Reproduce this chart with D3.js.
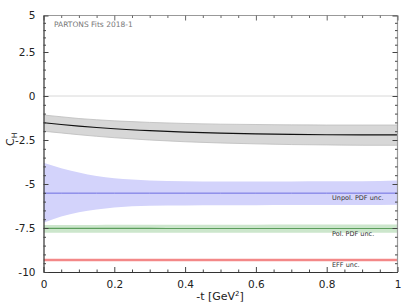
<!DOCTYPE html>
<html>
<head>
<meta charset="utf-8">
<script src="https://cdn.jsdelivr.net/npm/d3@7"></script>
<style>
  body { margin: 0; background: #fff; }
  svg { font-family: "DejaVu Sans", sans-serif; }
</style>
</head>
<body>
<div id="chart"></div>
<script>
// -t grid (GeV^2)
const tValues = [0, 0.05, 0.1, 0.15, 0.2, 0.3, 0.4, 0.5, 0.6, 0.7, 0.8, 0.9, 1];

// C_H central fit + uncertainty band
const fitCentral = [-1.52, -1.62, -1.71, -1.79, -1.86, -1.97, -2.05, -2.11, -2.15, -2.18, -2.20, -2.21, -2.21];
const fitUpper   = [-1.08, -1.18, -1.28, -1.35, -1.41, -1.50, -1.56, -1.60, -1.62, -1.64, -1.65, -1.65, -1.65];
const fitLower   = [-2.00, -2.10, -2.20, -2.29, -2.37, -2.50, -2.60, -2.67, -2.72, -2.76, -2.78, -2.80, -2.80];

// offset bands showing the separate uncertainty contributions
const unpolCentral = [-5.52, -5.52, -5.52, -5.52, -5.52, -5.52, -5.52, -5.52, -5.52, -5.52, -5.52, -5.52, -5.52];
const unpolUpper   = [-3.79, -4.10, -4.35, -4.55, -4.68, -4.80, -4.85, -4.86, -4.86, -4.86, -4.85, -4.84, -4.80];
const unpolLower   = [-7.20, -6.85, -6.60, -6.45, -6.34, -6.24, -6.22, -6.21, -6.21, -6.20, -6.20, -6.20, -6.18];

const polCentral = [-7.52, -7.52, -7.52, -7.52, -7.52, -7.52, -7.53, -7.53, -7.53, -7.53, -7.53, -7.53, -7.53];
const polUpper   = [-7.33, -7.33, -7.33, -7.33, -7.32, -7.32, -7.31, -7.31, -7.31, -7.30, -7.30, -7.30, -7.30];
const polLower   = [-7.77, -7.77, -7.77, -7.77, -7.77, -7.77, -7.77, -7.77, -7.77, -7.77, -7.77, -7.77, -7.77];

const effCentral = [-9.32, -9.32, -9.32, -9.32, -9.32, -9.32, -9.32, -9.32, -9.32, -9.32, -9.32, -9.32, -9.32];
const effUpper   = [-9.24, -9.24, -9.24, -9.24, -9.24, -9.24, -9.24, -9.24, -9.24, -9.24, -9.24, -9.24, -9.24];
const effLower   = [-9.40, -9.40, -9.40, -9.40, -9.40, -9.40, -9.40, -9.40, -9.40, -9.40, -9.40, -9.40, -9.40];

const xTicks = [0, 0.2, 0.4, 0.6, 0.8, 1];
const xMinorTicks = [0.05, 0.1, 0.15, 0.25, 0.3, 0.35, 0.45, 0.5, 0.55, 0.65, 0.7, 0.75, 0.85, 0.9, 0.95];
const yTicks = [5, 2.5, 0, -2.5, -5, -7.5, -10];
const yTickLabels = ["5", "2.5", "0", "-2.5", "-5", "-7.5", "-10"];
const yMinorTicks = [4.5, 4, 3.5, 3, 2, 1.5, 1, 0.5, -0.5, -1, -1.5, -2, -3, -3.5, -4, -4.5,
                     -5.5, -6, -6.5, -7, -8, -8.5, -9, -9.5];

const bandLabels = ["Unpol. PDF unc.", "Pol. PDF unc.", "EFF unc."];

const W = 407, H = 305;
const pLeft = 43.5, pRight = 397.5, pTop = 15.5, pBottom = 272;

const svg = d3.select('#chart').append('svg')
    .attr('width', W)
    .attr('height', H);

const x = d3.scaleLinear().domain([0, 1]).range([pLeft, pRight]);
// the top section of the picture is slightly compressed
const y = d3.scaleLinear().domain([-10, 2.5, 5]).range([pBottom, 52, pTop]);

svg.append('clipPath').attr('id', 'plotclip')
  .append('rect')
    .attr('x', pLeft).attr('y', pTop)
    .attr('width', pRight - pLeft).attr('height', pBottom - pTop);

const plot = svg.append('g').attr('clip-path', 'url(#plotclip)');

// zero line
plot.append('line')
    .attr('x1', pLeft).attr('x2', pRight)
    .attr('y1', y(0)).attr('y2', y(0))
    .attr('stroke', '#d8d8d8')
    .attr('stroke-width', 1);

const area = (lo, hi) => d3.area()
    .x((d, i) => x(tValues[i]))
    .y0((d, i) => y(lo[i]))
    .y1((d, i) => y(hi[i]))
    .curve(d3.curveMonotoneX)(tValues);

const line = vals => d3.line()
    .x((d, i) => x(tValues[i]))
    .y((d, i) => y(vals[i]))
    .curve(d3.curveMonotoneX)(tValues);

const bands = [
  { lo: fitLower, hi: fitUpper, mid: fitCentral, fill: '#d7d7d7', edge: '#bdbdbd', stroke: '#111', sw: 1.1 },
  { lo: unpolLower, hi: unpolUpper, mid: unpolCentral, fill: '#d3d3fb', edge: 'none', stroke: '#6e6ee0', sw: 1 },
  { lo: polLower, hi: polUpper, mid: polCentral, fill: '#cce6cc', edge: 'none', stroke: '#5c9e5c', sw: 1.1 },
  { lo: effLower, hi: effUpper, mid: effCentral, fill: '#fbc6c6', edge: 'none', stroke: '#f07373', sw: 1.4 }
];

bands.forEach(b => {
  plot.append('path')
      .attr('d', area(b.lo, b.hi))
      .attr('fill', b.fill)
      .attr('stroke', 'none');
  if (b.edge !== 'none') {
    plot.append('path').attr('d', line(b.hi)).attr('fill', 'none')
        .attr('stroke', b.edge).attr('stroke-width', 0.8);
    plot.append('path').attr('d', line(b.lo)).attr('fill', 'none')
        .attr('stroke', b.edge).attr('stroke-width', 0.8);
  }
  plot.append('path')
      .attr('d', line(b.mid))
      .attr('fill', 'none')
      .attr('stroke', b.stroke)
      .attr('stroke-width', b.sw);
});

// band labels, placed just under each central line
const labelY = [unpolCentral, polCentral, effCentral];
bandLabels.forEach((txt, i) => {
  svg.append('text')
      .attr('x', 332)
      .attr('y', y(labelY[i][12]) + 7)
      .attr('font-size', '6.5px')
      .attr('fill', '#333')
      .text(txt);
});

svg.append('text')
    .attr('x', 54)
    .attr('y', 27)
    .attr('font-size', '7.5px')
    .attr('fill', '#777')
    .text('PARTONS Fits 2018-1');

// frame: top and right lighter
svg.append('line').attr('x1', pLeft).attr('x2', pRight).attr('y1', pTop).attr('y2', pTop)
    .attr('stroke', '#999').attr('stroke-width', 1.2);
svg.append('line').attr('x1', pRight).attr('x2', pRight).attr('y1', pTop).attr('y2', pBottom)
    .attr('stroke', '#999').attr('stroke-width', 1.2);

// axes (ticks pointing inward)
const axisStyle = g => {
  g.select('.domain').attr('stroke', '#333').attr('stroke-width', 1.2);
  g.selectAll('.tick line').attr('stroke', '#444');
  g.selectAll('.tick text').attr('font-size', '10.5px').attr('fill', '#222')
      .attr('font-family', '"DejaVu Sans", sans-serif');
};

svg.append('g')
    .attr('transform', `translate(0,${pBottom})`)
    .call(d3.axisBottom(x).tickValues(xTicks).tickSizeInner(-5).tickSizeOuter(0).tickPadding(9)
      .tickFormat(d => d === 0 || d === 1 ? d3.format('d')(d) : d3.format('.1f')(d)))
    .call(axisStyle);
svg.append('g')
    .attr('transform', `translate(0,${pBottom})`)
    .call(d3.axisBottom(x).tickValues(xMinorTicks).tickSizeInner(-2.5).tickSizeOuter(0).tickFormat(''))
    .call(g => { g.select('.domain').remove(); g.selectAll('.tick line').attr('stroke', '#444'); });

svg.append('g')
    .attr('transform', `translate(0,${pTop})`)
    .call(d3.axisTop(x).tickValues(xTicks).tickSizeInner(-5).tickSizeOuter(0).tickFormat(''))
    .call(g => { g.select('.domain').remove(); g.selectAll('.tick line').attr('stroke', '#666'); });
svg.append('g')
    .attr('transform', `translate(0,${pTop})`)
    .call(d3.axisTop(x).tickValues(xMinorTicks).tickSizeInner(-2.5).tickSizeOuter(0).tickFormat(''))
    .call(g => { g.select('.domain').remove(); g.selectAll('.tick line').attr('stroke', '#666'); });

svg.append('g')
    .attr('transform', `translate(${pLeft},0)`)
    .call(d3.axisLeft(y).tickValues(yTicks).tickSizeInner(-5).tickSizeOuter(0).tickPadding(8)
      .tickFormat((d, i) => yTickLabels[i]))
    .call(axisStyle);
svg.append('g')
    .attr('transform', `translate(${pLeft},0)`)
    .call(d3.axisLeft(y).tickValues(yMinorTicks).tickSizeInner(-2.5).tickSizeOuter(0).tickFormat(''))
    .call(g => { g.select('.domain').remove(); g.selectAll('.tick line').attr('stroke', '#444'); });

svg.append('g')
    .attr('transform', `translate(${pRight},0)`)
    .call(d3.axisRight(y).tickValues(yTicks).tickSizeInner(-5).tickSizeOuter(0).tickFormat(''))
    .call(g => { g.select('.domain').remove(); g.selectAll('.tick line').attr('stroke', '#444'); });
svg.append('g')
    .attr('transform', `translate(${pRight},0)`)
    .call(d3.axisRight(y).tickValues(yMinorTicks).tickSizeInner(-2.5).tickSizeOuter(0).tickFormat(''))
    .call(g => { g.select('.domain').remove(); g.selectAll('.tick line').attr('stroke', '#444'); });

// axis titles
const xt = svg.append('text')
    .attr('x', 220)
    .attr('y', 300)
    .attr('text-anchor', 'middle')
    .attr('font-size', '11px')
    .attr('fill', '#222');
xt.append('tspan').text('-t [GeV');
xt.append('tspan').attr('font-size', '7px').attr('dy', -4).text('2');
xt.append('tspan').attr('dy', 4).text(']');

const yt = svg.append('text')
    .attr('transform', 'translate(14,146) rotate(-90)')
    .attr('font-size', '11px')
    .attr('fill', '#222');
yt.append('tspan').text('C');
yt.append('tspan').attr('font-size', '7.5px').attr('dy', 3).text('H');
</script>
</body>
</html>
